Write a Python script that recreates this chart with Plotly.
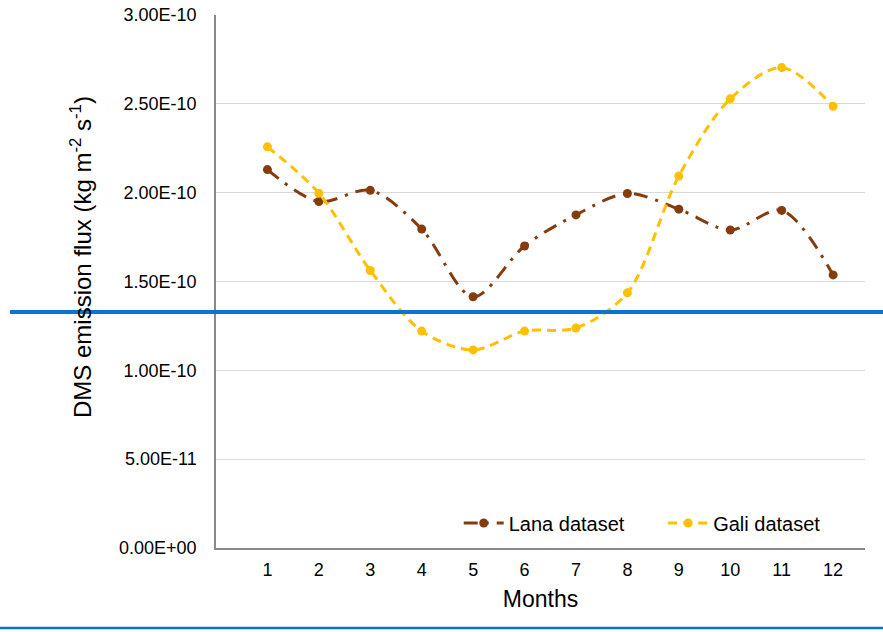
import plotly.graph_objects as go

months = [1, 2, 3, 4, 5, 6, 7, 8, 9, 10, 11, 12]
lana = [2.13e-10, 1.95e-10, 2.013e-10, 1.795e-10, 1.414e-10, 1.70e-10,
        1.875e-10, 1.995e-10, 1.907e-10, 1.79e-10, 1.90e-10, 1.537e-10]
gali = [2.258e-10, 1.997e-10, 1.562e-10, 1.221e-10, 1.115e-10, 1.221e-10,
        1.238e-10, 1.436e-10, 2.094e-10, 2.528e-10, 2.704e-10, 2.486e-10]
ytick_vals = [0, 5e-11, 1e-10, 1.5e-10, 2e-10, 2.5e-10, 3e-10]
ytick_text = ["0.00E+00", "5.00E-11", "1.00E-10", "1.50E-10", "2.00E-10", "2.50E-10", "3.00E-10"]
y_title = "DMS emission flux (kg m<sup>-2</sup> s<sup>-1</sup>)"
x_title = "Months"

FONT = "Liberation Sans, Arial, sans-serif"

fig = go.Figure()
fig.add_trace(go.Scatter(
    x=months, y=lana, name="Lana dataset", mode="lines+markers", legend="legend",
    line=dict(color="#843C0C", width=3, dash="14px,8px,3px,8px", shape="spline", smoothing=0.9),
    marker=dict(color="#843C0C", size=9, symbol="circle"),
))
fig.add_trace(go.Scatter(
    x=months, y=gali, name="Gali dataset", mode="lines+markers", legend="legend2",
    line=dict(color="#FFC000", width=3, dash="9px,6px", shape="spline", smoothing=0.9),
    marker=dict(color="#FFC000", size=9, symbol="circle"),
))

leg_common = dict(orientation="h", y=0.047, xanchor="left", yanchor="middle",
                  font=dict(size=20, family=FONT, color="#000000"),
                  bgcolor="rgba(0,0,0,0)", itemwidth=40)

fig.update_layout(
    width=883, height=632,
    margin=dict(l=216, r=18, t=15, b=84),
    paper_bgcolor="white", plot_bgcolor="white",
    font=dict(family=FONT, size=18, color="#000000"),
    showlegend=True,
    legend=dict(x=0.374, **leg_common),
    legend2=dict(x=0.689, **leg_common),
    xaxis=dict(range=[0, 12.62], tickvals=months, ticktext=[str(m) for m in months],
               showgrid=False, zeroline=False, showline=True, linecolor="#898989", linewidth=1.5,
               ticks="", ticklabelstandoff=5, tickfont=dict(size=18), automargin=False,
               title=dict(text=x_title, font=dict(size=23), standoff=12)),
    yaxis=dict(range=[0, 3e-10], tickvals=ytick_vals, ticktext=ytick_text,
               showgrid=True, gridcolor="#D9D9D9", gridwidth=1, zeroline=False,
               showline=True, linecolor="#898989", linewidth=1.5,
               ticks="", ticklabelstandoff=14, tickfont=dict(size=18), automargin=False),
    annotations=[
        dict(text=y_title, textangle=-90, xref="paper", yref="paper",
             x=-0.208, y=0.546, xanchor="center", yanchor="middle", showarrow=False,
             font=dict(size=24, family=FONT, color="#000000")),
    ],
    shapes=[
        dict(type="line", xref="paper", yref="paper", x0=-0.3174, x1=1.03,
             y0=0.4428, y1=0.4428, line=dict(color="#0A74D2", width=4), layer="above"),
        dict(type="line", xref="paper", yref="paper", x0=-0.333, x1=1.03,
             y0=-0.1501, y1=-0.1501, line=dict(color="#0A74D2", width=2.5), layer="above"),
    ],
)

fig.write_html("out.html")
